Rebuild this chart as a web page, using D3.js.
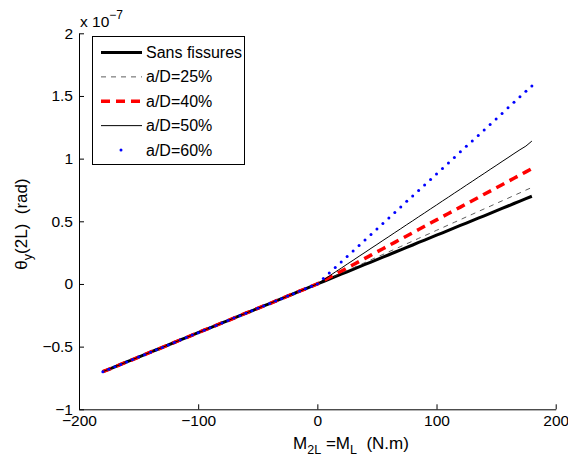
<!DOCTYPE html>
<html>
<head>
<meta charset="utf-8">
<script src="https://cdn.jsdelivr.net/npm/d3@7"></script>
<style>
  html, body { margin: 0; padding: 0; background: #fff; }
  svg { display: block; font-family: "Liberation Sans", Arial, Helvetica, sans-serif; }
</style>
</head>
<body>
<svg id="chart" width="568" height="457"></svg>
<script>
// ---------- DATA ----------
const moments = [
  -180,-175,-170,-165,-160,-155,-150,-145,-140,-135,-130,-125,-120,-115,-110,-105,-100,-95,-90,-85,
  -80,-75,-70,-65,-60,-55,-50,-45,-40,-35,-30,-25,-20,-15,-10,-5,0,
  5,10,15,20,25,30,35,40,45,50,55,60,65,70,75,80,85,90,95,100,
  105,110,115,120,125,130,135,140,145,150,155,160,165,170,175,180
];
// shared branch for negative moments (x 1e-7 rad)
const negBranch = [
  -0.700,-0.681,-0.661,-0.642,-0.622,-0.603,-0.583,-0.564,-0.544,-0.525,-0.506,-0.486,-0.467,-0.447,-0.428,-0.408,-0.389,-0.369,-0.350,-0.331,
  -0.311,-0.292,-0.272,-0.253,-0.233,-0.214,-0.194,-0.175,-0.156,-0.136,-0.117,-0.097,-0.078,-0.058,-0.039,-0.019,0
];
const sansFissuresPos = [
  0.019,0.039,0.058,0.078,0.097,0.117,0.136,0.156,0.175,0.194,0.214,0.233,0.253,0.272,0.292,0.311,0.331,0.350,0.369,0.389,
  0.408,0.428,0.447,0.467,0.486,0.506,0.525,0.544,0.564,0.583,0.603,0.622,0.642,0.661,0.681,0.700
];
const aD25Pos = [
  0.021,0.043,0.064,0.086,0.107,0.128,0.150,0.171,0.193,0.214,0.235,0.257,0.278,0.299,0.321,0.342,0.364,0.385,0.406,0.428,
  0.449,0.471,0.492,0.513,0.535,0.556,0.578,0.599,0.620,0.642,0.663,0.684,0.706,0.727,0.749,0.770
];
const aD40Pos = [
  0.026,0.051,0.077,0.102,0.128,0.153,0.179,0.204,0.230,0.256,0.281,0.307,0.332,0.358,0.383,0.409,0.434,0.460,0.486,0.511,
  0.537,0.562,0.588,0.613,0.639,0.664,0.690,0.716,0.741,0.767,0.792,0.818,0.843,0.869,0.894,0.920
];
const aD50Pos = [
  0.032,0.063,0.095,0.126,0.158,0.189,0.221,0.252,0.284,0.315,0.347,0.378,0.410,0.441,0.473,0.504,0.536,0.567,0.599,0.630,
  0.662,0.693,0.725,0.756,0.788,0.819,0.851,0.882,0.914,0.945,0.977,1.008,1.040,1.071,1.100,1.140
];
const aD60Pos = [
  0.044,0.088,0.132,0.176,0.220,0.263,0.307,0.351,0.395,0.439,0.483,0.527,0.571,0.615,0.659,0.702,0.746,0.790,0.834,0.878,
  0.922,0.966,1.010,1.054,1.098,1.141,1.185,1.229,1.273,1.317,1.361,1.405,1.449,1.493,1.537,1.580
];
const seriesNames = ["Sans fissures", "a/D=25%", "a/D=40%", "a/D=50%", "a/D=60%"];
const xTicks = [-200, -100, 0, 100, 200];
const yTicks = [-1, -0.5, 0, 0.5, 1, 1.5, 2];
const xLabelMain = "M", xLabelSub1 = "2L", xLabelMid = " =M", xLabelSub2 = "L", xLabelEnd = "\u00A0\u00A0(N.m)";
const yLabelMain = "θ", yLabelSub = "y", yLabelEnd = "(2L)\u00A0\u00A0(rad)";
const exponentBase = "x 10", exponentPow = "−7";

// ---------- BUILD ----------
const seriesValues = [sansFissuresPos, aD25Pos, aD40Pos, aD50Pos, aD60Pos].map(p => negBranch.concat(p));
const styles = [
  { stroke: "#000", width: 3, dash: null },
  { stroke: "#333", width: 0.8, dash: "5,5" },
  { stroke: "#ff0000", width: 3.5, dash: "9,6" },
  { stroke: "#000", width: 1, dash: null },
  { stroke: "#0000ff", dots: true }
];

const svg = d3.select("#chart");
const x = d3.scaleLinear().domain([-200, 200]).range([79, 555.7]);
const y = d3.scaleLinear().domain([-1, 2]).range([409.3, 33.3]);
const fmt = d3.format("~g");

// axes
const gx = svg.append("g").attr("transform", `translate(0,${y(-1)})`)
  .call(d3.axisBottom(x).tickValues(xTicks).tickFormat(fmt).tickSizeInner(-5).tickSizeOuter(0).tickPadding(6));
const gy = svg.append("g").attr("transform", `translate(${x(-200)},0)`)
  .call(d3.axisLeft(y).tickValues(yTicks).tickFormat(fmt).tickSizeInner(-5).tickSizeOuter(0).tickPadding(6));
[gx, gy].forEach(g => {
  g.selectAll("path.domain").attr("stroke", "#000").attr("stroke-width", 1);
  g.selectAll(".tick line").attr("stroke", "#000").attr("stroke-width", 1);
  g.selectAll(".tick text").attr("fill", "#000").attr("font-size", 15.5)
    .attr("font-family", '"Liberation Sans", Arial, sans-serif');
});
gx.selectAll(".tick text").attr("dy", "0.71em");

// series
const line = d3.line().x((d, i) => x(moments[i])).y(d => y(d));
seriesValues.forEach((vals, k) => {
  const s = styles[k];
  if (s.dots) {
    svg.append("g").selectAll("circle").data(vals).join("circle")
      .attr("cx", (d, i) => x(moments[i])).attr("cy", d => y(d))
      .attr("r", 1.5).attr("fill", s.stroke);
  } else {
    svg.append("path").datum(vals).attr("d", line)
      .attr("fill", "none").attr("stroke", s.stroke).attr("stroke-width", s.width)
      .attr("stroke-dasharray", s.dash);
  }
});

// exponent
const ex = svg.append("text").attr("x", 80).attr("y", 27).attr("font-size", 15.5).attr("fill", "#000");
ex.append("tspan").text(exponentBase);
ex.append("tspan").attr("dy", -8).attr("font-size", 12).text(exponentPow);

// x label
const xl = svg.append("text").attr("x", 351).attr("y", 449).attr("text-anchor", "middle")
  .attr("font-size", 17).attr("fill", "#000");
xl.append("tspan").text(xLabelMain);
xl.append("tspan").attr("dy", 5).attr("font-size", 12.5).text(xLabelSub1);
xl.append("tspan").attr("dy", -5).text(xLabelMid);
xl.append("tspan").attr("dy", 5).attr("font-size", 12.5).text(xLabelSub2);
xl.append("tspan").attr("dy", -5).text(xLabelEnd);

// y label
const yl = svg.append("text").attr("transform", `translate(27,224) rotate(-90)`)
  .attr("text-anchor", "middle").attr("font-size", 17).attr("fill", "#000");
yl.append("tspan").text(yLabelMain);
yl.append("tspan").attr("dy", 5).attr("font-size", 12.5).text(yLabelSub);
yl.append("tspan").attr("dy", -5).text(yLabelEnd);

// legend
const lg = svg.append("g");
lg.append("rect").attr("x", 92.5).attr("y", 36.5).attr("width", 152).attr("height", 128)
  .attr("fill", "#fff").attr("stroke", "#000").attr("stroke-width", 1);
const rowY = d3.scaleLinear().domain([0, 4]).range([52.5, 150]);
seriesNames.forEach((name, k) => {
  const s = styles[k];
  const ry = rowY(k);
  if (s.dots) {
    lg.append("circle").attr("cx", 121).attr("cy", ry).attr("r", 1.5).attr("fill", s.stroke);
  } else {
    lg.append("line").attr("x1", 101).attr("x2", 142).attr("y1", ry).attr("y2", ry)
      .attr("stroke", s.stroke).attr("stroke-width", s.width).attr("stroke-dasharray", s.dash);
  }
  lg.append("text").attr("x", 146).attr("y", ry + 5.5).attr("font-size", 16).attr("fill", "#000").text(name);
});
</script>
</body>
</html>
